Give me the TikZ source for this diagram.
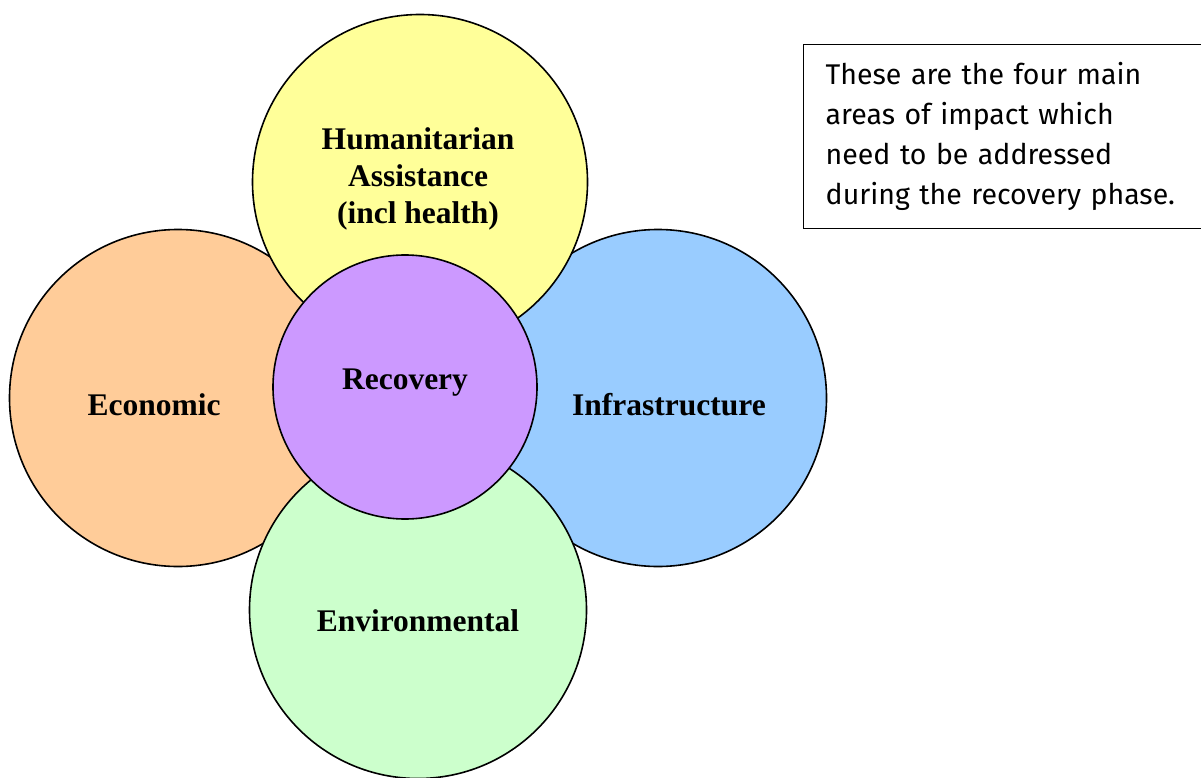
\documentclass[tikz,border=0pt]{standalone}
\usepackage{fontspec}
\setmainfont{Liberation Serif}
\newfontfamily\notefont{Fira Sans}
\begin{document}
\begin{tikzpicture}[x=1pt,y=-1pt,
  area/.style={circle,draw=black,line width=1.6pt,inner sep=0pt},
  lbl/.style={font=\bfseries\fontsize{31.5}{37}\selectfont,align=center,inner sep=0pt},
  note/.style={draw=black,line width=1.4pt,anchor=north west,minimum width=400pt,
    minimum height=184pt,inner xsep=22pt,text width=356pt,align=left,
    font=\notefont\fontsize{28.5}{40}\selectfont}]
\useasboundingbox (0,0) rectangle (1201,778);
% petals, back to front
\node[area,fill={rgb,255:red,255;green,204;blue,153},minimum size=337pt] (econ) at (178,398) {};
\node[area,fill={rgb,255:red,153;green,204;blue,255},minimum size=337pt] (infra) at (658,398) {};
\node[area,fill={rgb,255:red,255;green,255;blue,153},minimum size=335pt] (human) at (420,182) {};
\node[area,fill={rgb,255:red,204;green,255;blue,204},minimum size=337pt] (env) at (418,610) {};
\node[area,fill={rgb,255:red,204;green,153;blue,255},minimum size=264pt] (rec) at (405,387) {};
% captions
\node[lbl] (humanlbl) at (418,179) {Humanitarian\\Assistance\\(incl health)};
\node[lbl] (econlbl) at (154,405) {Economic};
\node[lbl] (infralbl) at (669,405) {Infrastructure};
\node[lbl] (envlbl) at (418,621) {Environmental};
\node[lbl] (reclbl) at (405,383) {Recovery};
% explanatory note
\node[note] (notebox) at (803,44) {These are the four main\\areas of impact which\\need to be addressed\\during the recovery phase.};
\end{tikzpicture}
\end{document}
